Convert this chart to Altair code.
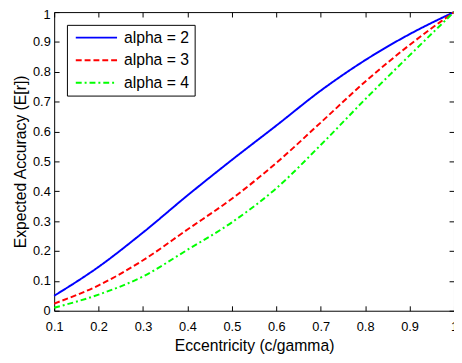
import altair as alt
import pandas as pd

# Data
x_vals = [0.1, 0.2, 0.3, 0.4, 0.5, 0.6, 0.7, 0.8, 0.9, 1.0]
alpha2 = [0.050, 0.147, 0.262, 0.386, 0.505, 0.620, 0.737, 0.839, 0.926, 1.000]
alpha3 = [0.024, 0.085, 0.169, 0.272, 0.375, 0.495, 0.630, 0.767, 0.890, 1.000]
alpha4 = [0.010, 0.054, 0.115, 0.204, 0.296, 0.410, 0.555, 0.708, 0.855, 1.000]

series_names = ["alpha = 2", "alpha = 3", "alpha = 4"]
series_colors = ["#0000ff", "#ff0000", "#00ff00"]
series_dashes = [[1, 0], [6, 3], [6, 3, 2, 3]]

x_ticks = [0.1, 0.2, 0.3, 0.4, 0.5, 0.6, 0.7, 0.8, 0.9, 1.0]
y_ticks = [0.0, 0.1, 0.2, 0.3, 0.4, 0.5, 0.6, 0.7, 0.8, 0.9, 1.0]

rows = []
for name, vals in zip(series_names, [alpha2, alpha3, alpha4]):
    for xv, yv in zip(x_vals, vals):
        rows.append({"x": xv, "y": yv, "series": name})
df = pd.DataFrame(rows)

W, H = 407, 304
FONT = "Liberation Sans"

legend = alt.Legend(
    title=None, orient="none", legendX=13, legendY=13,
    fillColor="white", strokeColor="black", padding=5, cornerRadius=0,
    symbolType="M-3,0H3", symbolSize=196, symbolStrokeWidth=2,
    symbolFillColor="transparent",
    labelFontSize=16, labelFont=FONT, labelColor="black",
    rowPadding=7, labelOffset=20, symbolOffset=17,
)

chart = alt.Chart(df).mark_line(strokeWidth=2, interpolate="monotone").encode(
    x=alt.X("x:Q",
            scale=alt.Scale(domain=[0.1, 1.0], nice=False, zero=False),
            axis=alt.Axis(values=x_ticks, format=".1~f", title="Eccentricity (c/gamma)",
                          grid=True, gridDash=[5, H - 10, 5, 1000], gridColor="black",
                          gridOpacity=1, gridWidth=1, ticks=False, tickSize=0, domain=False,
                          labelFlush=False, labelPadding=10, titlePadding=4, labelFontSize=13,
                          labelFont=FONT, labelColor="black", titleFont=FONT,
                          titleFontSize=16, titleFontWeight="normal", titleColor="black")),
    y=alt.Y("y:Q",
            scale=alt.Scale(domain=[0, 1], nice=False),
            axis=alt.Axis(values=y_ticks, format=".1~f", title="Expected Accuracy (E[r])",
                          grid=True, gridDash=[5, W - 10, 5, 1000], gridColor="black",
                          gridOpacity=1, gridWidth=1, ticks=False, tickSize=0, domain=False,
                          labelFlush=False, labelPadding=4, titlePadding=4, labelFontSize=13,
                          labelOffset={"condition": {"test": "datum.value == 1", "value": 3}, "value": 0},
                          labelFont=FONT, labelColor="black", titleFont=FONT,
                          titleFontSize=16, titleFontWeight="normal", titleColor="black")),
    color=alt.Color("series:N", scale=alt.Scale(domain=series_names, range=series_colors), legend=legend),
    strokeDash=alt.StrokeDash("series:N", scale=alt.Scale(domain=series_names, range=series_dashes), legend=legend),
).properties(
    width=W, height=H,
    padding={"left": 47, "top": 1, "right": 0, "bottom": 48},
    autosize=alt.AutoSizeParams(type="none"),
    background="white",
).configure_view(stroke="black", strokeWidth=1)

chart.save("out.html", embed_options={"renderer": "svg", "actions": False})
